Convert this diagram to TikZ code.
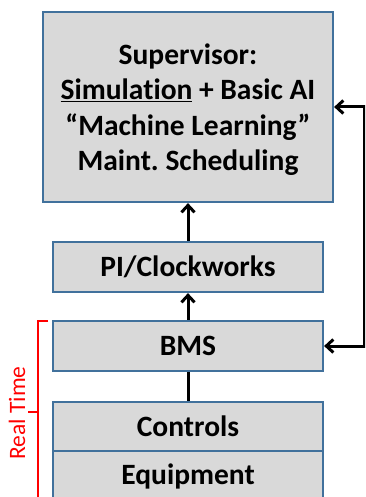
\documentclass[tikz,border=0pt]{standalone}
\usepackage{fontspec}
\setmainfont{Carlito}[Ligatures=NoCommon]
\usetikzlibrary{arrows.meta}
\definecolor{boxfill}{HTML}{D9D9D9}
\definecolor{boxline}{HTML}{41719C}
\definecolor{rt}{HTML}{FF0000}
\frenchspacing
\begin{document}
\begin{tikzpicture}[x=1pt,y=1pt,
  box/.style={draw=boxline, line width=2.2pt, fill=boxfill, font=\fontsize{29.5}{35.5}\selectfont\bfseries, align=center, inner sep=0pt, minimum width=270pt, minimum height=50pt},
  boxtext/.style={font=\fontsize{29.5}{35.5}\selectfont\bfseries, align=center, inner sep=0pt},
  tip/.tip={Straight Barb[length=7pt,width=13pt]},
  arr/.style={line width=3pt, -tip},
  darr/.style={line width=3pt, tip-tip},
  con/.style={line width=3pt}]
\useasboundingbox (0,0) rectangle (365,-497);
\clip (0,0) rectangle (365,-497);
\node[box, minimum width=290pt, minimum height=190pt] (sup) at (188,-107) {};
\node[boxtext] (suptxt) at ([yshift=-2.5pt]sup.center)
  {Supervisor:\\\underline{Simulation} + Basic AI\\“Machine Learning”\\Maint. Scheduling};
\node[box] (pi) at (188,-267) {PI/Clockworks};
\node[box] (bms) at (188,-346) {BMS};
\node[box, minimum height=49pt] (ctl) at (188,-426.5) {Controls};
\node[box, minimum height=50pt] (eqp) at (188,-476) {Equipment};
\draw[arr] (pi.north) -- (sup.south);
\draw[arr] (bms.north) -- (pi.south);
\draw[con] (bms.south) -- (ctl.north);
\draw[darr] (sup.east) -- ++(30,0) |- (bms.east);
\draw[rt, line width=2.4pt] (48,-321) -- (38,-321) -- (38,-510);
\draw[rt, line width=2.4pt] (38,-412) -- (28,-412);
\node[rt, rotate=90, font=\fontsize{23.5}{26}\selectfont, inner sep=0pt] (rtl) at (17,-413) {Real Time};
\end{tikzpicture}
\end{document}
